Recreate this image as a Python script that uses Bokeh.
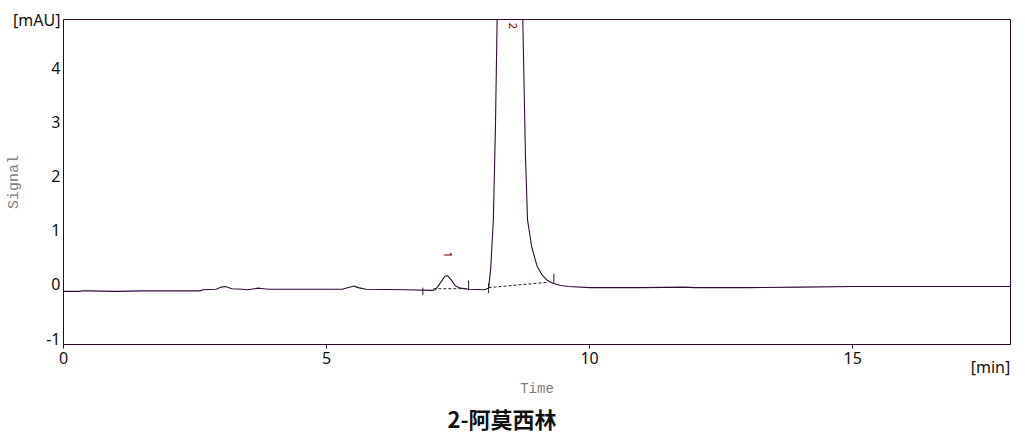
import numpy as np
from bokeh.plotting import figure
from bokeh.models import FixedTicker, Range1d, ColumnDataSource, LinearAxis, Title
from bokeh.core.properties import value
from bokeh.embed import file_html
from bokeh.resources import INLINE

# ---- data ----
time_min = [0.0, 0.3, 0.35, 0.5, 1.0, 1.5, 2.0, 2.6, 2.65, 2.9, 3.0, 3.08, 3.2, 3.4, 3.5,
            3.7, 3.8, 3.9, 4.5, 5.3, 5.45, 5.52, 5.6, 5.75, 6.5, 7.0, 7.07, 7.15, 7.25,
            7.3, 7.38, 7.45, 7.55, 7.7, 8.0, 8.08, 8.12, 8.17, 8.21, 8.25, 8.35, 8.5,
            8.62, 8.72, 8.78, 8.82, 8.9, 9.0, 9.1, 9.2, 9.3, 9.45, 9.6, 10.0, 11.0,
            11.8, 12.0, 13.0, 14.0, 15.0, 16.0, 17.0, 18.0]
signal_mau = [-0.02, -0.02, -0.01, -0.01, -0.02, -0.01, -0.01, -0.01, 0.01, 0.02, 0.06,
              0.07, 0.03, 0.02, 0.01, 0.04, 0.03, 0.02, 0.02, 0.02, 0.06, 0.08, 0.05,
              0.02, 0.01, 0.0, 0.01, 0.12, 0.26, 0.27, 0.18, 0.08, 0.04, 0.02, 0.01,
              0.04, 0.4, 1.3, 3.0, 5.5, 12.0, 20.0, 12.0, 5.5, 2.5, 1.3, 0.8, 0.45,
              0.28, 0.18, 0.13, 0.09, 0.07, 0.05, 0.05, 0.06, 0.05, 0.05, 0.06, 0.07,
              0.07, 0.07, 0.07]

# integration baselines (dashed)
base_t0 = [7.03, 8.08]
base_y0 = [0.03, 0.05]
base_t1 = [7.70, 9.22]
base_y1 = [0.03, 0.15]

# integration event marks
mark_t = [6.83, 7.70, 8.08, 9.32]
mark_y0 = [-0.09, 0.0, -0.05, 0.13]
mark_y1 = [0.05, 0.18, 0.13, 0.31]

# peak labels
peak_ids = ["1", "2"]
peak_t = [7.30, 8.54]
peak_y = [0.66, 4.88]

# axes
x_ticks = [0, 5, 10, 15]
x_tick_labels = ["0", "5", "10", "15"]
y_ticks = [-1, 0, 1, 2, 3, 4]
y_tick_labels = ["-1", "0", "1", "2", "3", "4"]
y_unit_tick = 4.88
y_unit_text = "[mAU]"
x_unit_tick = 17.62
x_unit_text = "[min]"
y_title = "Signal"
x_title = "Time"
caption = "2-阿莫西林"

AX = "#2b0b2b"
LINE = "#33093a"
GRAY = "#808080"
TXT = "#111111"
LABEL_SHIFT = 0.11  # tick labels sit just above their tick position

p = figure(width=1025, height=433, output_backend="svg", toolbar_location=None,
           x_range=Range1d(0, 18), y_range=Range1d(-1, 5),
           min_border_left=63, min_border_right=15, min_border_top=19, min_border_bottom=89)
p.background_fill_color = "white"
p.border_fill_color = "white"
p.outline_line_color = AX
p.outline_line_width = 1
p.grid.visible = False

# main x axis: ticks + numbers
xa = p.xaxis[0]
xa.ticker = FixedTicker(ticks=x_ticks)
xa.major_label_overrides = dict(zip(x_ticks, x_tick_labels))
xa.axis_line_color = AX
xa.major_tick_line_color = AX
xa.minor_tick_line_color = None
xa.major_tick_in = 0
xa.major_tick_out = 4
xa.major_label_standoff = 3
xa.major_label_text_font = "Noto Sans"
xa.major_label_text_font_size = "16px"
xa.major_label_text_color = TXT

# second x axis: unit text and axis title
xu = LinearAxis(ticker=FixedTicker(ticks=[x_unit_tick]),
                major_label_overrides={x_unit_tick: x_unit_text})
xu.axis_line_color = None
xu.major_tick_line_color = None
xu.minor_tick_line_color = None
xu.major_tick_in = 0
xu.major_tick_out = 0
xu.major_label_standoff = -11
xu.major_label_text_font = "Noto Sans"
xu.major_label_text_font_size = "16px"
xu.major_label_text_color = TXT
xu.axis_label = x_title
xu.axis_label_standoff = 0
xu.axis_label_text_font = "Liberation Mono"
xu.axis_label_text_font_style = "normal"
xu.axis_label_text_font_size = "14px"
xu.axis_label_text_color = GRAY
p.add_layout(xu, "below")

# default y axis hidden; the frame outline draws the left edge
p.yaxis[0].visible = False

# label y axis (shifted range so labels sit just above their positions)
p.extra_y_ranges = {"lab": Range1d(-1 - LABEL_SHIFT, 5 - LABEL_SHIFT)}
lab_over = dict(zip(y_ticks, y_tick_labels))
lab_over[y_unit_tick] = y_unit_text
yl = LinearAxis(y_range_name="lab", ticker=FixedTicker(ticks=y_ticks + [y_unit_tick]),
                major_label_overrides=lab_over)
yl.axis_line_color = None
yl.major_tick_line_color = None
yl.minor_tick_line_color = None
yl.major_tick_in = 0
yl.major_tick_out = 0
yl.major_label_standoff = 3
yl.major_label_text_font = "Noto Sans"
yl.major_label_text_font_size = "16px"
yl.major_label_text_color = TXT
yl.axis_label = y_title
yl.axis_label_standoff = -13
yl.axis_label_text_font = "Liberation Mono"
yl.axis_label_text_font_style = "normal"
yl.axis_label_text_font_size = "15px"
yl.axis_label_text_color = GRAY
p.add_layout(yl, "left")

# caption
p.add_layout(Title(text=caption, align="left", offset=384, standoff=0,
                   text_font="Noto Sans CJK SC", text_font_size="22px",
                   text_font_style="bold", text_color=TXT), "below")

# signal trace
p.line(time_min, signal_mau, line_color=LINE, line_width=1.1)

# dashed integration baselines
p.segment(x0=base_t0, y0=base_y0, x1=base_t1, y1=base_y1,
          line_color="#222222", line_width=1, line_dash="3 2")
# event marks
p.segment(x0=mark_t, y0=mark_y0, x1=mark_t, y1=mark_y1,
          line_color="#222222", line_width=1)

# peak ids
src = ColumnDataSource(dict(t=peak_t, y=peak_y, s=peak_ids))
p.text(x="t", y="y", text="s", source=src, angle=-np.pi / 2,
       text_font=value("Noto Sans"), text_font_size="11px", text_color="#7a0000",
       text_align="center", text_baseline="middle")

open("out.html", "w").write(file_html(p, INLINE))
